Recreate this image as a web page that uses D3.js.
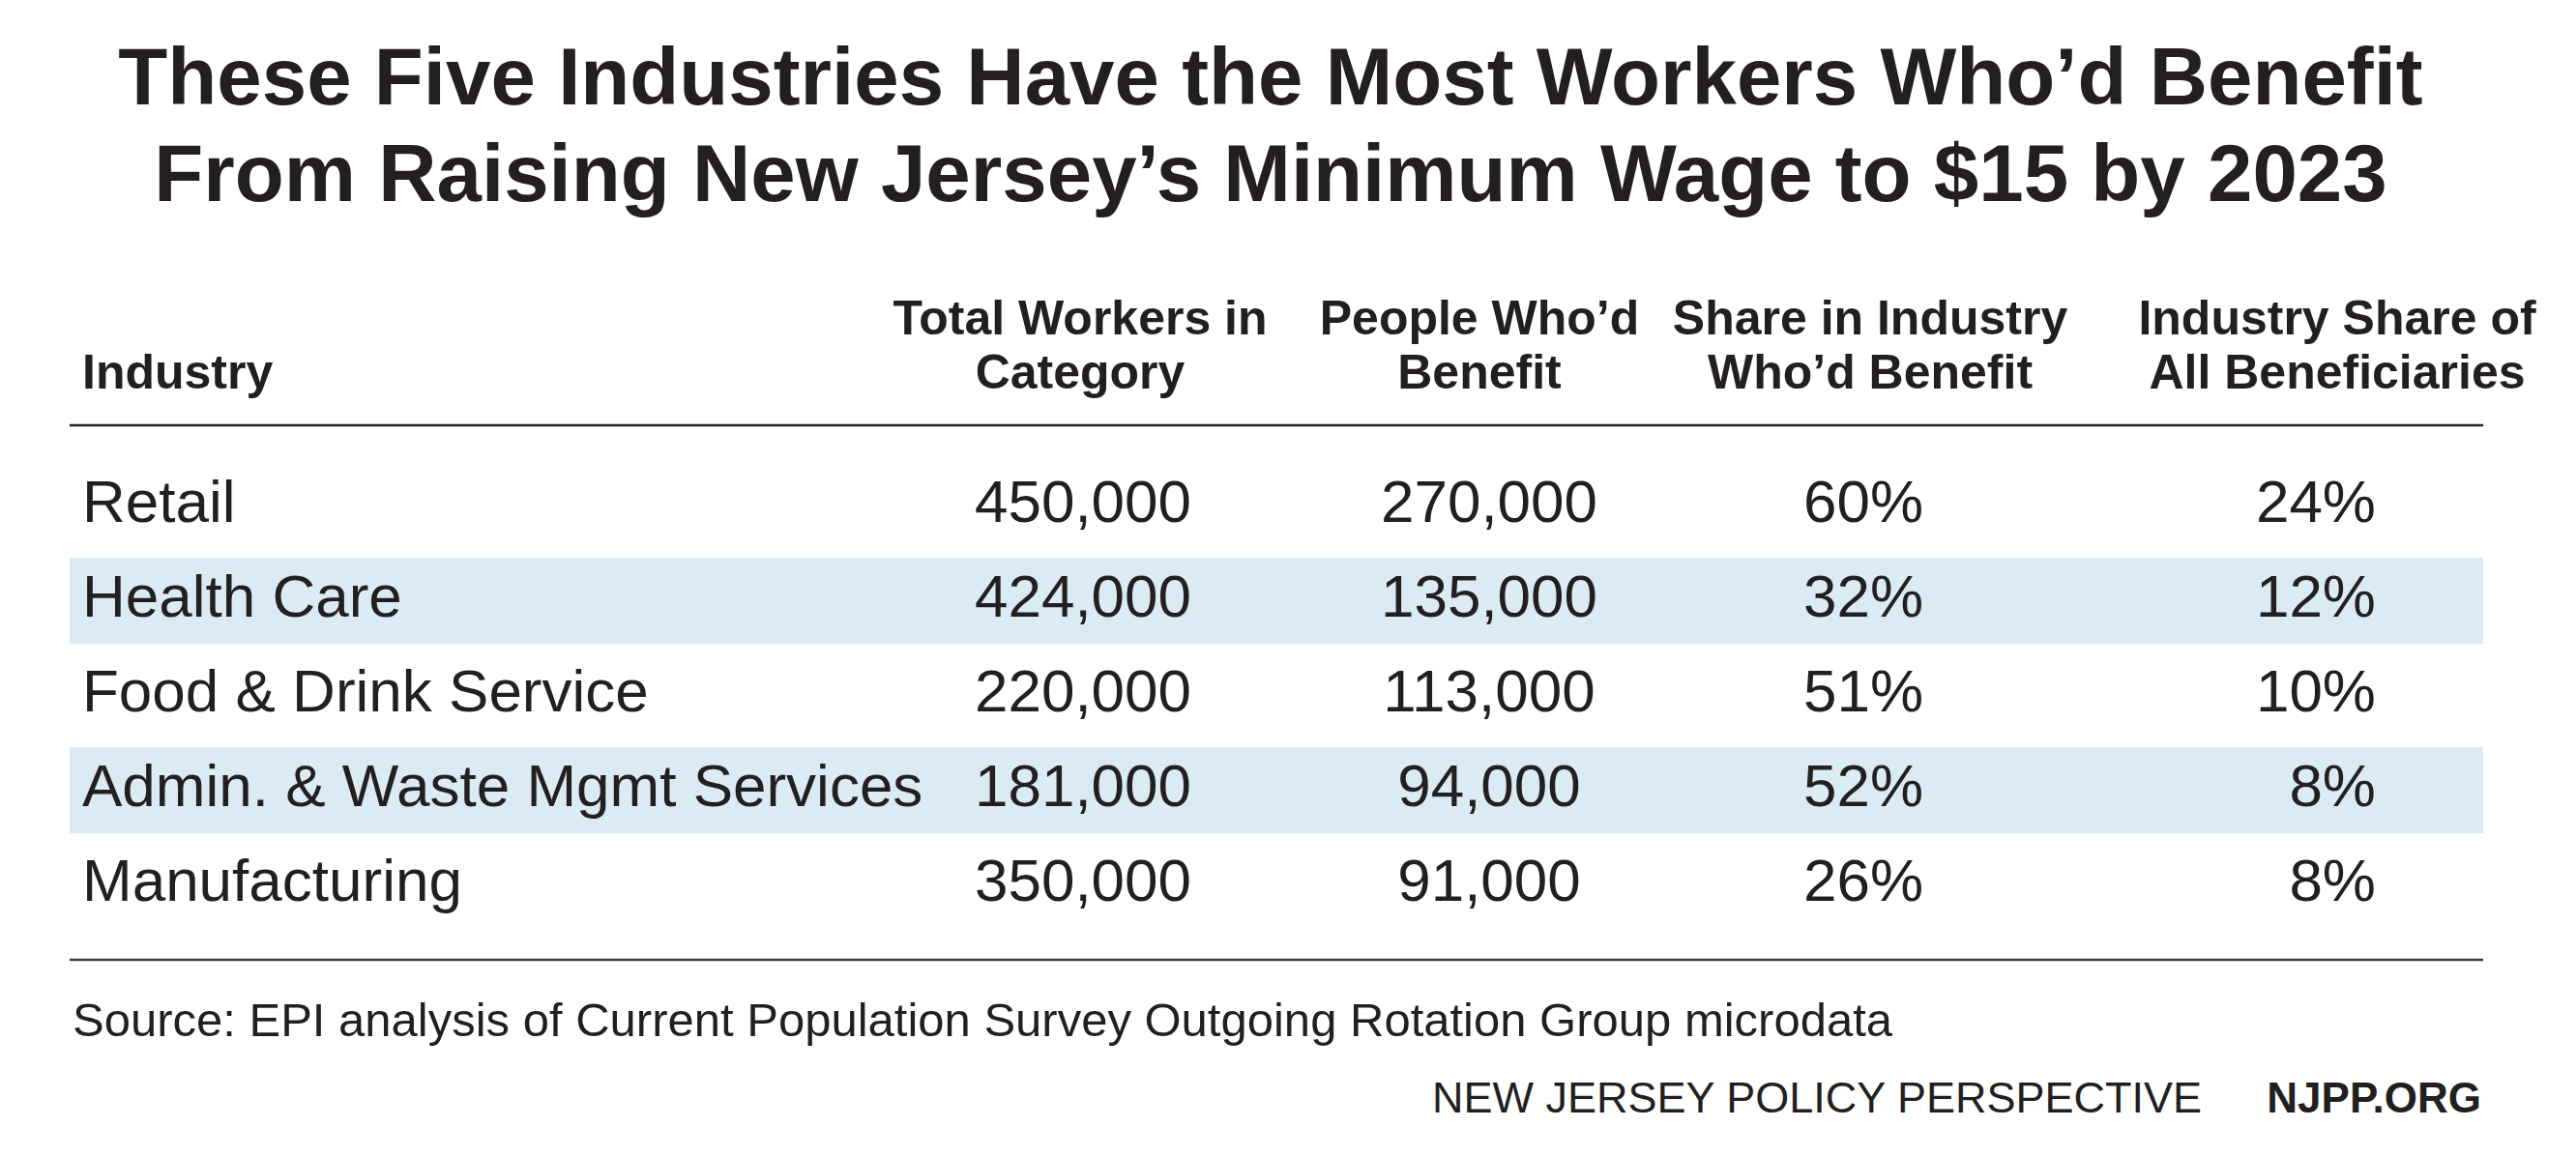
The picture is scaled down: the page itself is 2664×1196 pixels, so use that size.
<!DOCTYPE html>
<html>
<head>
<meta charset="utf-8">
<script src="https://cdn.jsdelivr.net/npm/d3@7"></script>
<style>
  html, body { margin: 0; padding: 0; background: #ffffff; }
  svg { display: block; }
  text { font-family: "Liberation Sans", Arial, Helvetica, sans-serif; fill: #231f20; }
</style>
</head>
<body>
<svg id="chart" width="2664" height="1196"></svg>
<script>
// ---- data ----
const titleLines = [
  "These Five Industries Have the Most Workers Who\u2019d Benefit",
  "From Raising New Jersey\u2019s Minimum Wage to $15 by 2023"
];
const industries = ["Retail", "Health Care", "Food & Drink Service", "Admin. & Waste Mgmt Services", "Manufacturing"];
const totalWorkers = [450000, 424000, 220000, 181000, 350000];
const peopleBenefit = [270000, 135000, 113000, 94000, 91000];
const shareInIndustry = [0.60, 0.32, 0.51, 0.52, 0.26];
const shareOfAll = [0.24, 0.12, 0.10, 0.08, 0.08];
const headers = [
  ["Industry"],
  ["Total Workers in", "Category"],
  ["People Who\u2019d", "Benefit"],
  ["Share in Industry", "Who\u2019d Benefit"],
  ["Industry Share of", "All Beneficiaries"]
];
const sourceText = "Source: EPI analysis of Current Population Survey Outgoing Rotation Group microdata";
const orgName = "NEW JERSEY POLICY PERSPECTIVE";
const orgUrl = "NJPP.ORG";

// ---- layout ----
const svg = d3.select("#chart");
const tableLeft = 72, tableRight = 2568;
const fmtNum = d3.format(",");
const fmtPct = d3.format(".0%");

// title
svg.selectAll("text.title").data(titleLines).join("text")
  .attr("class", "title")
  .attr("x", 1314)
  .attr("y", (d, i) => 108 + i * 100)
  .attr("text-anchor", "middle")
  .style("font-size", "83.5px")
  .style("font-weight", "bold")
  .text(d => d);

// columns: anchor x + alignment
const columns = [
  { key: "industry", x: 85, anchor: "start", hx: 85, hanchor: "start", values: industries, fmt: d => d },
  { key: "total", x: 1120, anchor: "middle", hx: 1117, hanchor: "middle", values: totalWorkers, fmt: fmtNum },
  { key: "people", x: 1540, anchor: "middle", hx: 1530, hanchor: "middle", values: peopleBenefit, fmt: fmtNum },
  { key: "shareIn", x: 1927, anchor: "middle", hx: 1934, hanchor: "middle", values: shareInIndustry, fmt: fmtPct },
  { key: "shareAll", x: 2457, anchor: "end", hx: 2417, hanchor: "middle", values: shareOfAll, fmt: fmtPct }
];

// headers
const hdr = svg.append("g").attr("class", "headers");
columns.forEach((c, ci) => {
  const lines = headers[ci];
  const baseY = 402 - (lines.length - 1) * 56;
  lines.forEach((ln, li) => {
    hdr.append("text")
      .attr("x", c.hx)
      .attr("y", baseY + li * 56)
      .attr("text-anchor", c.hanchor)
      .style("font-size", "50px")
      .style("font-weight", "bold")
      .text(ln);
  });
});

// top rule
svg.append("line")
  .attr("x1", tableLeft).attr("x2", tableRight)
  .attr("y1", 440).attr("y2", 440)
  .attr("stroke", "#231f20").attr("stroke-width", 2.5);

// rows
const y = d3.scaleBand().domain(industries).range([479, 969]).padding(0);

svg.append("g").attr("class", "bands")
  .selectAll("rect").data(industries.filter((d, i) => i % 2 === 1)).join("rect")
  .attr("x", tableLeft)
  .attr("width", tableRight - tableLeft)
  .attr("y", d => y(d))
  .attr("height", y.bandwidth() * 0.91)
  .attr("fill", "#dbebf4");

const rowsG = svg.append("g").attr("class", "rows");
columns.forEach(c => {
  rowsG.selectAll("text." + c.key).data(c.values.map((v, i) => ({ v, ind: industries[i] }))).join("text")
    .attr("class", c.key)
    .attr("x", c.x)
    .attr("y", d => y(d.ind) + 61)
    .attr("text-anchor", c.anchor)
    .style("font-size", "62px")
    .text(d => c.fmt(d.v));
});

// bottom rule
svg.append("line")
  .attr("x1", tableLeft).attr("x2", tableRight)
  .attr("y1", 993).attr("y2", 993)
  .attr("stroke", "#3a3a3a").attr("stroke-width", 2.5);

// source
svg.append("text")
  .attr("x", 75).attr("y", 1072)
  .style("font-size", "49px")
  .text(sourceText);

// footer
svg.append("text")
  .attr("x", 2566).attr("y", 1151)
  .attr("text-anchor", "end")
  .style("font-size", "44px")
  .style("font-weight", "bold")
  .text(orgUrl);
svg.append("text")
  .attr("x", 2277).attr("y", 1151)
  .attr("text-anchor", "end")
  .style("font-size", "45px")
  .text(orgName);
</script>
</body>
</html>
